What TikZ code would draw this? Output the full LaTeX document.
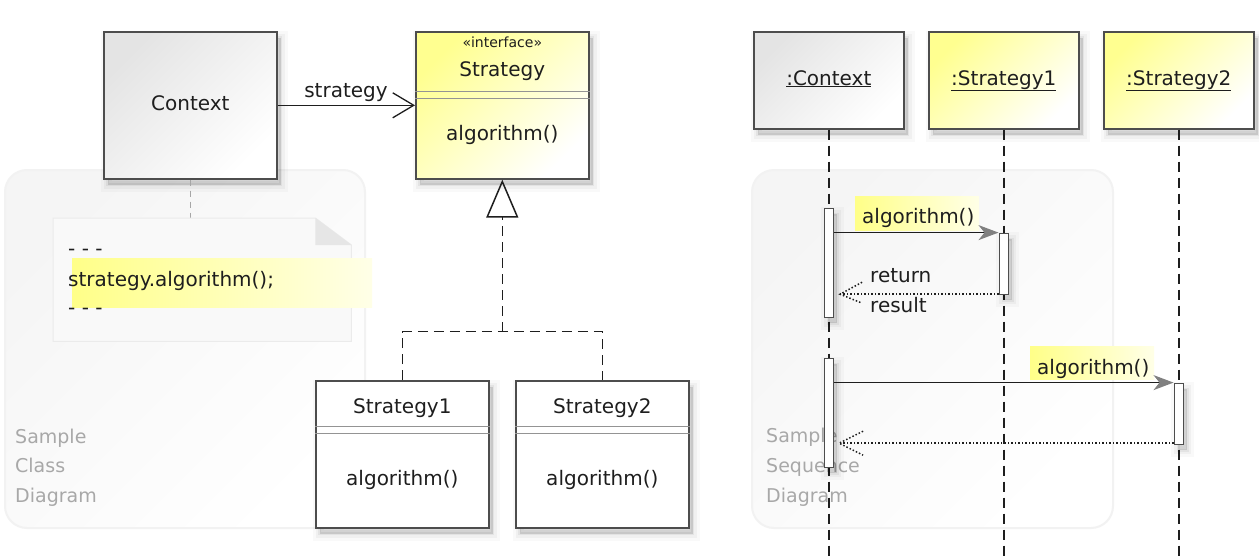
\documentclass[tikz,border=0pt]{standalone}
\usepackage{fontspec}
\setmainfont{DejaVu Sans}
\usetikzlibrary{arrows.meta,calc}
\definecolor{bord}{HTML}{4D4D4D}
\definecolor{txt}{HTML}{1E1E1E}
\definecolor{ctxg}{HTML}{E4E4E4}
\definecolor{yel}{HTML}{FFFF90}
\definecolor{hlc}{HTML}{FFFF88}
\definecolor{lbl}{HTML}{A8A8A8}
\definecolor{panel}{HTML}{F5F5F5}
\definecolor{panele}{HTML}{F2F2F2}
\definecolor{notef}{HTML}{F9F9F9}
\definecolor{notee}{HTML}{EBEBEB}
\definecolor{fold}{HTML}{E6E6E6}
\begin{document}
\begin{tikzpicture}[x=1pt,y=-1pt,
  font=\fontsize{20}{24}\selectfont, text=txt,
  shd/.style={
    preaction={draw=black, draw opacity=0.025, line width=14pt, transform canvas={shift={(4pt,-6pt)}}},
    preaction={draw=black, draw opacity=0.035, line width=8pt, transform canvas={shift={(4pt,-6pt)}}},
    preaction={draw=black, draw opacity=0.05, line width=3pt, fill=black, fill opacity=0.12, transform canvas={shift={(4pt,-6pt)}}}},
  cbox/.style={draw=bord, line width=1.6pt, anchor=north west, minimum width=173pt, minimum height=147pt, inner sep=0pt, shd},
  hbox/.style={draw=bord, line width=1.6pt, anchor=north west, minimum width=150pt, minimum height=97pt, inner sep=0pt, shd},
  grayfill/.style={top color=ctxg, middle color=ctxg!45!white, bottom color=white, shading angle=45},
  yelfill/.style={top color=yel, middle color=yel!30!white, bottom color=white, shading angle=45},
  whitefill/.style={fill=white},
  sep/.style={draw=bord!60, line width=0.8pt},
  lab/.style={anchor=base, inner sep=0pt},
  lbw/.style={anchor=base west, inner sep=0pt},
  panelstyle/.style={rounded corners=22pt, draw=panele, line width=2pt, top color=panel, bottom color=white, shading angle=45},
  samp/.style={anchor=base west, inner sep=0pt, text=lbl, font=\fontsize{19}{22}\selectfont},
  life/.style={draw=txt, line width=1.6pt, dash pattern=on 10pt off 6pt},
  actbar/.style={draw=bord, fill=white, line width=1.6pt, anchor=north, minimum width=9pt, inner sep=0pt, shd},
  msg/.style={draw=txt, line width=1.4pt, -{Stealth[length=20pt, width=15pt, inset=6pt, color=gray, fill=gray]}},
  ret/.style={draw=txt, line width=1.5pt, dotted},
  hlbox/.style={anchor=north west, inner sep=0pt, left color=hlc, right color=hlc!20!white},
  assoc/.style={draw=txt, line width=1.5pt, -{Straight Barb[length=21pt, width=25pt, line width=1.3pt]}},
  realize/.style={draw=txt, line width=1.6pt, dash pattern=on 10pt off 6pt},
  notelink/.style={draw=gray!70, line width=1.2pt, dash pattern=on 6pt off 5pt},
]
\useasboundingbox (0,0) rectangle (1259,557);
\fill[white] (0,0) rectangle (1259,557);

% ---------- class diagram ----------
\path[panelstyle] (5,170) rectangle (365,528);
\node[samp] (cl1) at (15,443) {Sample};
\node[samp] (cl2) at (15,472) {Class};
\node[samp] (cl3) at (15,502) {Diagram};

\node[cbox, grayfill] (ctx) at (103,31) {};
\node[lab] (ctxt) at ($(ctx.north)+(0,79)$) {Context};

\node[cbox, yelfill] (strat) at (415,31) {};
\node[lab, font=\fontsize{14}{16}\selectfont] (stst) at ($(strat.north)+(0,16)$) {«interface»};
\node[lab] (stn) at ($(strat.north)+(0,45)$) {Strategy};
\draw[sep] ($(strat.north west)+(0,60)$) -- ($(strat.north east)+(0,60)$);
\draw[sep] ($(strat.north west)+(0,67)$) -- ($(strat.north east)+(0,67)$);
\node[lab] (stm) at ($(strat.north)+(0,109)$) {algorithm()};

\draw[assoc] (ctx.east) -- (strat.west);
\node[lab] (assl) at ($(strat.west)+(-69,-7.5)$) {strategy};

\node[cbox, whitefill] (s1) at (315,380) {};
\node[lab] (s1n) at ($(s1.north)+(0,33)$) {Strategy1};
\draw[sep] ($(s1.north west)+(0,46)$) -- ($(s1.north east)+(0,46)$);
\draw[sep] ($(s1.north west)+(0,53)$) -- ($(s1.north east)+(0,53)$);
\node[lab] (s1m) at ($(s1.north)+(0,105)$) {algorithm()};

\node[cbox, whitefill] (s2) at (515,380) {};
\node[lab] (s2n) at ($(s2.north)+(0,33)$) {Strategy2};
\draw[sep] ($(s2.north west)+(0,46)$) -- ($(s2.north east)+(0,46)$);
\draw[sep] ($(s2.north west)+(0,53)$) -- ($(s2.north east)+(0,53)$);
\node[lab] (s2m) at ($(s2.north)+(0,105)$) {algorithm()};

\coordinate (j) at ($(strat.south)+(0,152)$);
\draw[realize] (s1.north) |- (j) -| (s2.north);
\draw[realize, -{Triangle[open, length=38pt, width=32pt, line width=1.5pt]}] (j) -- (strat.south);

% note
\node[anchor=north west, minimum width=298pt, minimum height=123pt, inner sep=0pt] (note) at (53,218) {};
\draw[notelink] (ctx.south) -- (ctx.south |- note.north);
\path[fill=notef, draw=notee, line width=1pt] (note.north west) -- ($(note.north east)+(-36,0)$) -- ($(note.north east)+(0,27)$) -- (note.south east) -- (note.south west) -- cycle;
\path[fill=fold] ($(note.north east)+(-36,0)$) -- ($(note.north east)+(-36,27)$) -- ($(note.north east)+(0,27)$) -- cycle;
\node[hlbox, minimum width=300pt, minimum height=49pt] (nh) at (72,258) {};
\node[lbw] (n1) at (68,255) {- - -};
\node[lbw] (n2) at (68,286) {strategy.algorithm();};
\node[lbw] (n3) at (68,314) {- - -};

% ---------- sequence diagram ----------
\path[panelstyle] (752,170) rectangle (1113,528);
\node[samp] (sq1) at (766,442) {Sample};
\node[samp] (sq2) at (766,472) {Sequence};
\node[samp] (sq3) at (766,502) {Diagram};

\node[hbox, grayfill] (hc) at (753,31) {};
\node[hbox, yelfill] (h1) at (928,31) {};
\node[hbox, yelfill] (h2) at (1103,31) {};
\node[lab] (hct) at ($(hc.north)+(0,54)$) {\underline{:Context}};
\node[lab] (h1t) at ($(h1.north)+(0,54)$) {\underline{:Strategy1}};
\node[lab] (h2t) at ($(h2.north)+(0,54)$) {\underline{:Strategy2}};

\coordinate (bot) at (0,557);
\draw[life] (hc.south) -- (hc.south |- bot);
\draw[life] (h1.south) -- (h1.south |- bot);
\draw[life] (h2.south) -- (h2.south |- bot);

\node[actbar, minimum height=109pt] (a1) at ($(hc.south)+(0,78)$) {};
\node[actbar, minimum height=61pt] (b1) at ($(h1.south)+(0,103)$) {};
\node[actbar, minimum height=109pt] (a2) at ($(hc.south)+(0,228)$) {};
\node[actbar, minimum height=61pt] (b2) at ($(h2.south)+(0,253)$) {};

\node[hlbox, minimum width=124pt, minimum height=34pt] (m1h) at (855,196) {};
\node[lbw] (m1t) at (862,223) {algorithm()};
\draw[msg] (a1.east |- b1.north) -- (b1.north west);

\coordinate (r1) at ($(a1.east |- b1.south)+(6,-1)$);
\draw[ret] (b1.south west |- r1) -- (r1);
\draw[ret] ($(r1)+(22,-12)$) -- (r1) -- ($(r1)+(22,9)$);
\node[lbw] (r1a) at (870,282) {return};
\node[lbw] (r1b) at (870,312) {result};

\node[hlbox, minimum width=124pt, minimum height=33pt] (m2h) at (1030,346) {};
\node[lbw] (m2t) at (1037,374) {algorithm()};
\draw[msg] (a2.east |- b2.north) -- (b2.north west);

\coordinate (r2) at ($(a2.east |- b2.south)+(5,-2)$);
\draw[ret] (b2.south west |- r2) -- (r2);
\draw[ret] ($(r2)+(24,-12)$) -- (r2) -- ($(r2)+(24,12)$);
\end{tikzpicture}
\end{document}
